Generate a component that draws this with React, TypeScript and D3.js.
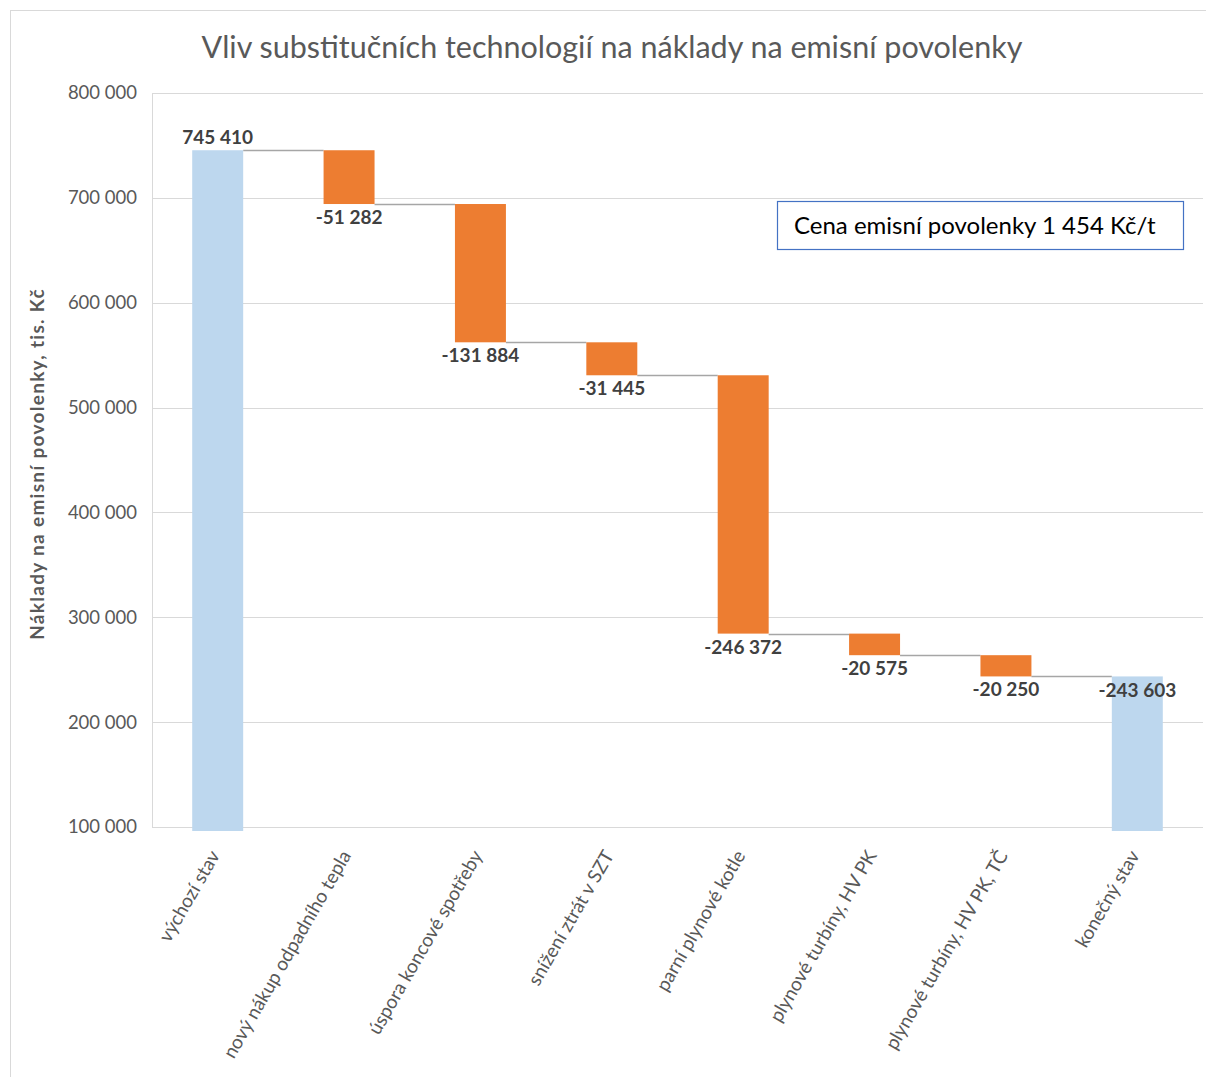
import React from "react";
import * as d3 from "d3";

const title = "Vliv substitučních technologií na náklady na emisní povolenky";
const yAxisTitle = "Náklady na emisní povolenky, tis. Kč";
const noteText = "Cena emisní povolenky 1 454 Kč/t";

const categories = [
  "výchozí stav",
  "nový nákup odpadního tepla",
  "úspora koncové spotřeby",
  "snížení ztrát v SZT",
  "parní plynové kotle",
  "plynové turbíny, HV PK",
  "plynové turbíny, HV PK, TČ",
  "konečný stav",
];
const startValue = 745410;
const deltas = [-51282, -131884, -31445, -246372, -20575, -20250];
const finalValue = 243603;
const finalLabel = "-243 603";
const yTicks = [100000, 200000, 300000, 400000, 500000, 600000, 700000, 800000];

const W = 1206;
const H = 1077;
const FONT = "Lato, 'Open Sans', sans-serif";
const BLUE = "#bdd7ee";
const ORANGE = "#ed7d31";

const fmt = d3
  .formatLocale({ decimal: ",", thousands: " ", grouping: [3], currency: ["", ""], minus: "-" })
  .format(",d");

export default function App() {
  const y = d3.scaleLinear().domain([100000, 800000]).range([827, 93]);
  const x = d3
    .scaleBand<string>()
    .domain(categories)
    .range([152, 1203])
    .paddingInner(0.612)
    .paddingOuter(0.306);
  const bw = x.bandwidth();
  const floorY = y(100000) + 4;

  type Bar = { cat: string; top: number; bottom: number; kind: "total" | "delta"; label: string; labelPos: "above" | "below" };
  const bars: Bar[] = [];
  bars.push({ cat: categories[0], top: startValue, bottom: 0, kind: "total", label: fmt(startValue), labelPos: "above" });
  let run = startValue;
  deltas.forEach((d, i) => {
    const next = run + d;
    bars.push({ cat: categories[i + 1], top: Math.max(run, next), bottom: Math.min(run, next), kind: "delta", label: fmt(d), labelPos: "below" });
    run = next;
  });
  bars.push({ cat: categories[7], top: finalValue, bottom: 0, kind: "total", label: finalLabel, labelPos: "below" });

  const levels: number[] = [];
  let r = startValue;
  levels.push(r);
  deltas.forEach((d) => {
    r += d;
    levels.push(r);
  });

  return (
    <svg width={W} height={H} style={{ position: "absolute", left: 0, top: 0, background: "#fff" }} fontFamily={FONT}>
      <rect x={0} y={0} width={W} height={H} fill="#fff" />
      <rect x={10.5} y={10.5} width={W + 20} height={H + 20} fill="none" stroke="#d9d9d9" strokeWidth={1} />
      <text x={612} y={58} textAnchor="middle" fontSize={30.5} fill="#595959">
        {title}
      </text>

      {yTicks.map((t) => (
        <line key={"g" + t} x1={152} x2={1203} y1={Math.round(y(t)) + 0.5} y2={Math.round(y(t)) + 0.5} stroke="#d9d9d9" strokeWidth={1} />
      ))}
      <line x1={152.5} x2={152.5} y1={y(800000)} y2={y(100000)} stroke="#d9d9d9" strokeWidth={1} />
      {yTicks.map((t) => (
        <text key={"t" + t} x={137} y={y(t)} dy="0.35em" textAnchor="end" fontSize={18.5} fill="#595959">
          {fmt(t)}
        </text>
      ))}
      <text
        transform={`translate(44, ${(y(800000) + y(100000)) / 2 + 4}) rotate(-90)`}
        textAnchor="middle"
        fontSize={19}
        letterSpacing={1.3}
        fontWeight="bold"
        fill="#595959"
      >
        {yAxisTitle}
      </text>

      {levels.map((lv, i) => (
        <line
          key={"c" + i}
          x1={(x(categories[i]) as number) + bw}
          x2={x(categories[i + 1]) as number}
          y1={Math.round(y(lv)) + 0.5}
          y2={Math.round(y(lv)) + 0.5}
          stroke="#a6a6a6"
          strokeWidth={1.5}
        />
      ))}

      {bars.map((b) => {
        const x0 = x(b.cat) as number;
        const yTop = y(b.top);
        const yBot = b.kind === "total" ? floorY : y(b.bottom);
        return (
          <rect key={"b" + b.cat} x={x0} y={yTop} width={bw} height={yBot - yTop} fill={b.kind === "total" ? BLUE : ORANGE} />
        );
      })}

      {bars.map((b) => {
        const cx = (x(b.cat) as number) + bw / 2;
        let ly: number;
        if (b.labelPos === "above") ly = y(b.top) - 6;
        else if (b.kind === "total") ly = y(b.top) + 21;
        else ly = y(b.bottom) + 20;
        return (
          <text key={"l" + b.cat} x={cx} y={ly} textAnchor="middle" fontSize={19} fontWeight="bold" fill="#404040">
            {b.label}
          </text>
        );
      })}

      {categories.map((c) => {
        const cx = (x(c) as number) + bw / 2;
        return (
          <text
            key={"x" + c}
            transform={`translate(${cx - 3}, 852) rotate(-60)`}
            textAnchor="end"
            dy="0.35em"
            fontSize={19}
            fill="#595959"
          >
            {c}
          </text>
        );
      })}

      <rect x={777.5} y={201.5} width={406} height={48} fill="#fff" stroke="#4472c4" strokeWidth={1.2} />
      <text x={794} y={226} dy="0.35em" fontSize={24} fill="#000">
        {noteText}
      </text>
    </svg>
  );
}
